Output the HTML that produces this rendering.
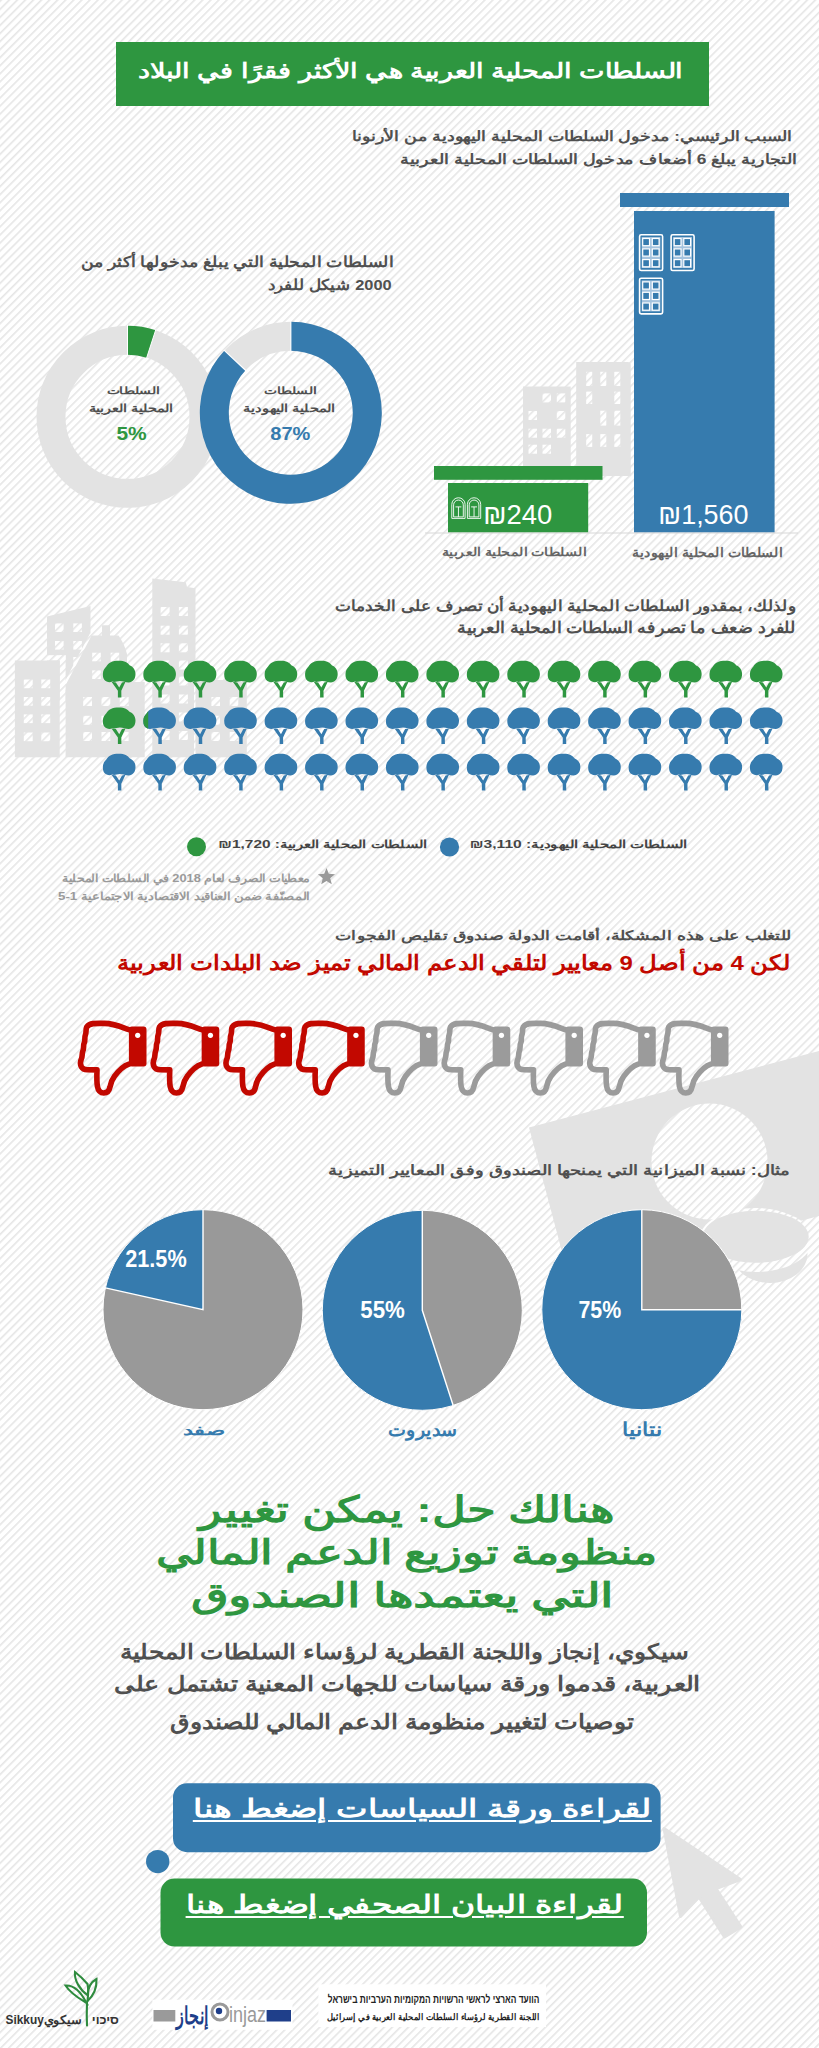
<!DOCTYPE html>
<html lang="ar"><head><meta charset="utf-8"><title>infographic</title>
<style>
html,body{margin:0;padding:0;background:#fff;}
#pg{position:relative;width:819px;height:2048px;overflow:hidden;font-family:"Liberation Sans",sans-serif;}
.g{position:absolute;left:0;top:0;display:block;}
.t{position:absolute;white-space:nowrap;line-height:1;direction:rtl;transform-origin:100% 0;}
</style></head><body><div id="pg">
<svg class="g" width="819" height="2048" viewBox="0 0 819 2048"><defs><pattern id="st" patternUnits="userSpaceOnUse" width="5.7" height="5.7" patternTransform="rotate(45)"><rect width="5.7" height="5.7" fill="#ffffff"/><rect x="0" y="0" width="1.6" height="5.7" fill="#e6e6e6"/></pattern><symbol id="tree" viewBox="0 0 33 37" overflow="visible"><path d="M4,20.8 C1,19.8 0,16.5 0.2,12.8 C0.4,9.5 1.8,7.6 3.6,5.8 C5.8,2 9.5,0 16.2,0 C22,0 25,2 27.2,4.6 C30.6,6 32.8,9 32.8,13.2 C32.8,18.3 30,21.6 26,21.6 C22.5,21.6 20.5,20.2 17.2,20.2 C14,20.2 12.2,21.8 9.6,20.8 C8,21.8 5.6,21.8 4,20.8 Z"/><path d="M8.8,21 L13.2,21.6 L16.5,26.8 L19.3,21.6 L22.8,21 L18.6,30 L18.7,36.6 L15.2,36.6 L15.2,30 Z"/></symbol><symbol id="thumb" viewBox="0 0 70 76" overflow="visible"><path d="M51.7,9.3 C46,7.5 38,3.2 27,3 C18,2.8 12.5,2.6 9.6,6.5 C8.3,9 9.4,12 8.1,14.8 C7,17.5 8.4,19.8 7,22.5 C5.8,25 7,27.8 5.7,30.5 C4.6,33 5.4,35.8 4.2,38.5 C3,41 3,44 4.2,46.5 C5.5,48.8 7.5,49.3 10,49.3 L19.8,49.5 C19.6,55 19.4,61 20.2,66 C21,70.5 23.5,72.6 26.6,72.6 C29.8,72.6 32,70.5 32.8,66.5 C33.5,62.5 34.5,59.5 37,56.3 C40.5,51.5 45,46 51.7,43.8" fill="none" stroke="currentColor" stroke-width="5.6" stroke-linejoin="round" stroke-linecap="round"/><rect x="51.7" y="6.1" width="17.6" height="40.1" rx="3" fill="currentColor"/><circle cx="60.5" cy="14.9" r="2.6" fill="#fff"/></symbol><clipPath id="cl1"><rect x="0" y="0" width="148.2" height="2048"/></clipPath></defs><rect width="819" height="2048" fill="url(#st)"/><rect x="116" y="42" width="593" height="64" fill="#2e9640"/><rect x="523" y="386.5" width="47.7" height="85" fill="#e3e3e3"/><rect x="542.5" y="393.4" width="8.5" height="9" fill="url(#st)"/><rect x="556.8" y="393.4" width="8.5" height="9" fill="url(#st)"/><rect x="528.5" y="411" width="8.5" height="9" fill="url(#st)"/><rect x="556.8" y="411" width="8.5" height="9" fill="url(#st)"/><rect x="528.5" y="428.7" width="8.5" height="9" fill="url(#st)"/><rect x="542.5" y="428.7" width="8.5" height="9" fill="url(#st)"/><rect x="556.8" y="428.7" width="8.5" height="9" fill="url(#st)"/><rect x="528.5" y="444.7" width="8.5" height="9" fill="url(#st)"/><rect x="542.5" y="444.7" width="8.5" height="9" fill="url(#st)"/><path d="M576.2,361.9 H627.7 Q630.7,361.9 630.7,364.9 V475.9 H576.2 Z" fill="#e3e3e3"/><rect x="586.2" y="371.8" width="6" height="14.2" fill="url(#st)"/><rect x="600.3" y="371.8" width="6" height="14.2" fill="url(#st)"/><rect x="614.3" y="371.8" width="6" height="14.2" fill="url(#st)"/><rect x="586.2" y="391.6" width="6" height="12.4" fill="url(#st)"/><rect x="614.3" y="391.6" width="6" height="12.4" fill="url(#st)"/><rect x="600.3" y="410.7" width="6" height="14.9" fill="url(#st)"/><rect x="614.3" y="410.7" width="6" height="14.9" fill="url(#st)"/><rect x="586.2" y="434.1" width="6" height="12.8" fill="url(#st)"/><rect x="600.3" y="434.1" width="6" height="12.8" fill="url(#st)"/><rect x="614.3" y="434.1" width="6" height="12.8" fill="url(#st)"/><rect x="620" y="193" width="169" height="14" fill="#367bae"/><rect x="634" y="211" width="140.6" height="321.5" fill="#367bae"/><g transform="translate(638.8,234)"><rect x="0.8" y="0.8" width="23" height="35.7" rx="1.6" fill="none" stroke="#fff" stroke-width="1.6"/><rect x="2.9" y="3" width="18.7" height="31" fill="#a4c3de"/><rect x="3.9" y="4.5" width="6.8" height="7.2" fill="#367bae" stroke="#fff" stroke-width="1.2"/><rect x="3.9" y="14.9" width="6.8" height="7.2" fill="#367bae" stroke="#fff" stroke-width="1.2"/><rect x="3.9" y="25.6" width="6.8" height="7.2" fill="#367bae" stroke="#fff" stroke-width="1.2"/><rect x="13.5" y="4.5" width="6.8" height="7.2" fill="#367bae" stroke="#fff" stroke-width="1.2"/><rect x="13.5" y="14.9" width="6.8" height="7.2" fill="#367bae" stroke="#fff" stroke-width="1.2"/><rect x="13.5" y="25.6" width="6.8" height="7.2" fill="#367bae" stroke="#fff" stroke-width="1.2"/></g><g transform="translate(670.3,234)"><rect x="0.8" y="0.8" width="23" height="35.7" rx="1.6" fill="none" stroke="#fff" stroke-width="1.6"/><rect x="2.9" y="3" width="18.7" height="31" fill="#a4c3de"/><rect x="3.9" y="4.5" width="6.8" height="7.2" fill="#367bae" stroke="#fff" stroke-width="1.2"/><rect x="3.9" y="14.9" width="6.8" height="7.2" fill="#367bae" stroke="#fff" stroke-width="1.2"/><rect x="3.9" y="25.6" width="6.8" height="7.2" fill="#367bae" stroke="#fff" stroke-width="1.2"/><rect x="13.5" y="4.5" width="6.8" height="7.2" fill="#367bae" stroke="#fff" stroke-width="1.2"/><rect x="13.5" y="14.9" width="6.8" height="7.2" fill="#367bae" stroke="#fff" stroke-width="1.2"/><rect x="13.5" y="25.6" width="6.8" height="7.2" fill="#367bae" stroke="#fff" stroke-width="1.2"/></g><g transform="translate(638.8,277.4)"><rect x="0.8" y="0.8" width="23" height="35.7" rx="1.6" fill="none" stroke="#fff" stroke-width="1.6"/><rect x="2.9" y="3" width="18.7" height="31" fill="#a4c3de"/><rect x="3.9" y="4.5" width="6.8" height="7.2" fill="#367bae" stroke="#fff" stroke-width="1.2"/><rect x="3.9" y="14.9" width="6.8" height="7.2" fill="#367bae" stroke="#fff" stroke-width="1.2"/><rect x="3.9" y="25.6" width="6.8" height="7.2" fill="#367bae" stroke="#fff" stroke-width="1.2"/><rect x="13.5" y="4.5" width="6.8" height="7.2" fill="#367bae" stroke="#fff" stroke-width="1.2"/><rect x="13.5" y="14.9" width="6.8" height="7.2" fill="#367bae" stroke="#fff" stroke-width="1.2"/><rect x="13.5" y="25.6" width="6.8" height="7.2" fill="#367bae" stroke="#fff" stroke-width="1.2"/></g><rect x="434" y="466" width="168.5" height="13.8" fill="#2e9640"/><rect x="448" y="483" width="140.2" height="49.5" fill="#2e9640"/><g transform="translate(451.3,497.4)" fill="none" stroke="#fff" stroke-width="0.9"><path d="M0.5,21 V7 A6.65,6.65 0 0 1 13.8,7 V21 Z"/><path d="M2.3,19.5 V7.5 A4.85,4.85 0 0 1 12,7.5 V19.5 Z"/><path d="M4.2,9.5 H10.1 M7.15,9.5 V19.5"/></g><g transform="translate(466.9,497.4)" fill="none" stroke="#fff" stroke-width="0.9"><path d="M0.5,21 V7 A6.65,6.65 0 0 1 13.8,7 V21 Z"/><path d="M2.3,19.5 V7.5 A4.85,4.85 0 0 1 12,7.5 V19.5 Z"/><path d="M4.2,9.5 H10.1 M7.15,9.5 V19.5"/></g><rect x="425" y="532.5" width="373" height="1" fill="#d8d8d8"/><circle cx="127.5" cy="416.8" r="76.5" fill="none" stroke="#e3e3e3" stroke-width="29"/><path d="M127.50,325.80 A91,91 0 0 1 155.62,330.25 L146.66,357.83 A62,62 0 0 0 127.50,354.80 Z" fill="#2e9640"/><path d="M127.50,355.80 L127.50,324.80" stroke="#fff" stroke-width="1"/><path d="M146.35,358.79 L155.93,329.30" stroke="#fff" stroke-width="1"/><circle cx="290.8" cy="412.8" r="76.5" fill="none" stroke="#e3e3e3" stroke-width="29"/><path d="M290.80,321.80 A91,91 0 1 1 224.46,350.51 L245.60,370.36 A62,62 0 1 0 290.80,350.80 Z" fill="#367bae"/><path d="M290.80,351.80 L290.80,320.80" stroke="#fff" stroke-width="1.2"/><path d="M246.33,371.04 L223.73,349.82" stroke="#fff" stroke-width="1.2"/><path d="M47,616.4 L90.5,606.1 V700 H47 Z" fill="#e3e3e3"/><rect x="55" y="623.4" width="8.6" height="8.6" fill="url(#st)"/><rect x="73.3" y="623.4" width="8.6" height="8.6" fill="url(#st)"/><rect x="55" y="641" width="8.6" height="8.6" fill="url(#st)"/><rect x="73.3" y="641" width="8.6" height="8.6" fill="url(#st)"/><rect x="73.3" y="657" width="8.6" height="8.6" fill="url(#st)"/><rect x="59.7" y="655.2" width="5.9" height="102.1" fill="url(#st)"/><rect x="13.5" y="655.2" width="52" height="5.3" fill="url(#st)"/><rect x="14.9" y="660.5" width="44.8" height="96.8" fill="#e3e3e3"/><rect x="23.8" y="679.5" width="8.9" height="8.7" fill="url(#st)"/><rect x="23.8" y="697" width="8.9" height="8.7" fill="url(#st)"/><rect x="23.8" y="714.4" width="8.9" height="8.7" fill="url(#st)"/><rect x="23.8" y="732.5" width="8.9" height="8.7" fill="url(#st)"/><rect x="41.3" y="679.5" width="8.9" height="8.7" fill="url(#st)"/><rect x="41.3" y="697" width="8.9" height="8.7" fill="url(#st)"/><rect x="41.3" y="714.4" width="8.9" height="8.7" fill="url(#st)"/><rect x="41.3" y="732.5" width="8.9" height="8.7" fill="url(#st)"/><path d="M63.5,684 L90,633.5 H100.5 V623.8 H111.5 V633.5 H119.5 L128.5,653.5 V684 Z" fill="url(#st)"/><path d="M67,682.5 L91.6,635.6 H102 V625.3 H110 V635.6 H118.5 Q124,643 127,654 V684 H67 Z" fill="#e3e3e3"/><rect x="92.2" y="652.7" width="8.6" height="8.6" fill="url(#st)"/><rect x="110.6" y="652.7" width="8.6" height="8.6" fill="url(#st)"/><rect x="92.2" y="670.4" width="8.6" height="8.6" fill="url(#st)"/><rect x="110.6" y="670.4" width="8.6" height="8.6" fill="url(#st)"/><path d="M65.6,690 L73,682 H144.7 V757.3 H65.6 Z" fill="#e3e3e3"/><rect x="83.2" y="697" width="8.8" height="9" fill="url(#st)"/><rect x="83.2" y="715.8" width="8.8" height="9" fill="url(#st)"/><rect x="83.2" y="732" width="8.8" height="9" fill="url(#st)"/><rect x="101.5" y="697" width="8.8" height="9" fill="url(#st)"/><rect x="101.5" y="715.8" width="8.8" height="9" fill="url(#st)"/><rect x="101.5" y="732" width="8.8" height="9" fill="url(#st)"/><rect x="119.8" y="697" width="8.8" height="9" fill="url(#st)"/><rect x="119.8" y="715.8" width="8.8" height="9" fill="url(#st)"/><rect x="119.8" y="732" width="8.8" height="9" fill="url(#st)"/><path d="M152.3,578.5 L185.8,582.2 L187,587 L195.5,588.3 V757.3 H152.3 Z" fill="#e3e3e3"/><rect x="160.6" y="607" width="9" height="9" fill="url(#st)"/><rect x="160.6" y="625.7" width="9" height="9" fill="url(#st)"/><rect x="160.6" y="643.3" width="9" height="9" fill="url(#st)"/><rect x="160.6" y="660.5" width="9" height="9" fill="url(#st)"/><rect x="160.6" y="676.5" width="9" height="9" fill="url(#st)"/><rect x="160.6" y="694.5" width="9" height="9" fill="url(#st)"/><rect x="160.6" y="712.5" width="9" height="9" fill="url(#st)"/><rect x="160.6" y="731" width="9" height="9" fill="url(#st)"/><rect x="178.9" y="607" width="9" height="9" fill="url(#st)"/><rect x="178.9" y="625.7" width="9" height="9" fill="url(#st)"/><rect x="178.9" y="643.3" width="9" height="9" fill="url(#st)"/><rect x="178.9" y="660.5" width="9" height="9" fill="url(#st)"/><rect x="178.9" y="676.5" width="9" height="9" fill="url(#st)"/><rect x="178.9" y="694.5" width="9" height="9" fill="url(#st)"/><rect x="178.9" y="712.5" width="9" height="9" fill="url(#st)"/><rect x="178.9" y="731" width="9" height="9" fill="url(#st)"/><rect x="194" y="678.5" width="54.3" height="80" fill="url(#st)"/><rect x="195.5" y="680" width="51.3" height="77.3" fill="#e3e3e3"/><rect x="211.4" y="697" width="8.6" height="9" fill="url(#st)"/><rect x="211.4" y="715.8" width="8.6" height="9" fill="url(#st)"/><rect x="211.4" y="732" width="8.6" height="9" fill="url(#st)"/><rect x="229.7" y="697" width="8.6" height="9" fill="url(#st)"/><rect x="229.7" y="715.8" width="8.6" height="9" fill="url(#st)"/><rect x="229.7" y="732" width="8.6" height="9" fill="url(#st)"/><use href="#tree" x="102.70" y="660.8" width="33" height="37" fill="#2e9640"/><use href="#tree" x="143.14" y="660.8" width="33" height="37" fill="#2e9640"/><use href="#tree" x="183.58" y="660.8" width="33" height="37" fill="#2e9640"/><use href="#tree" x="224.02" y="660.8" width="33" height="37" fill="#2e9640"/><use href="#tree" x="264.46" y="660.8" width="33" height="37" fill="#2e9640"/><use href="#tree" x="304.90" y="660.8" width="33" height="37" fill="#2e9640"/><use href="#tree" x="345.34" y="660.8" width="33" height="37" fill="#2e9640"/><use href="#tree" x="385.78" y="660.8" width="33" height="37" fill="#2e9640"/><use href="#tree" x="426.22" y="660.8" width="33" height="37" fill="#2e9640"/><use href="#tree" x="466.66" y="660.8" width="33" height="37" fill="#2e9640"/><use href="#tree" x="507.10" y="660.8" width="33" height="37" fill="#2e9640"/><use href="#tree" x="547.54" y="660.8" width="33" height="37" fill="#2e9640"/><use href="#tree" x="587.98" y="660.8" width="33" height="37" fill="#2e9640"/><use href="#tree" x="628.42" y="660.8" width="33" height="37" fill="#2e9640"/><use href="#tree" x="668.86" y="660.8" width="33" height="37" fill="#2e9640"/><use href="#tree" x="709.30" y="660.8" width="33" height="37" fill="#2e9640"/><use href="#tree" x="749.74" y="660.8" width="33" height="37" fill="#2e9640"/><use href="#tree" x="102.70" y="707.4" width="33" height="37" fill="#2e9640"/><use href="#tree" x="143.14" y="707.4" width="33" height="37" fill="#367bae"/><g clip-path="url(#cl1)"><use href="#tree" x="143.14" y="707.4" width="33" height="37" fill="#2e9640"/></g><use href="#tree" x="183.58" y="707.4" width="33" height="37" fill="#367bae"/><use href="#tree" x="224.02" y="707.4" width="33" height="37" fill="#367bae"/><use href="#tree" x="264.46" y="707.4" width="33" height="37" fill="#367bae"/><use href="#tree" x="304.90" y="707.4" width="33" height="37" fill="#367bae"/><use href="#tree" x="345.34" y="707.4" width="33" height="37" fill="#367bae"/><use href="#tree" x="385.78" y="707.4" width="33" height="37" fill="#367bae"/><use href="#tree" x="426.22" y="707.4" width="33" height="37" fill="#367bae"/><use href="#tree" x="466.66" y="707.4" width="33" height="37" fill="#367bae"/><use href="#tree" x="507.10" y="707.4" width="33" height="37" fill="#367bae"/><use href="#tree" x="547.54" y="707.4" width="33" height="37" fill="#367bae"/><use href="#tree" x="587.98" y="707.4" width="33" height="37" fill="#367bae"/><use href="#tree" x="628.42" y="707.4" width="33" height="37" fill="#367bae"/><use href="#tree" x="668.86" y="707.4" width="33" height="37" fill="#367bae"/><use href="#tree" x="709.30" y="707.4" width="33" height="37" fill="#367bae"/><use href="#tree" x="749.74" y="707.4" width="33" height="37" fill="#367bae"/><use href="#tree" x="102.70" y="753.8" width="33" height="37" fill="#367bae"/><use href="#tree" x="143.14" y="753.8" width="33" height="37" fill="#367bae"/><use href="#tree" x="183.58" y="753.8" width="33" height="37" fill="#367bae"/><use href="#tree" x="224.02" y="753.8" width="33" height="37" fill="#367bae"/><use href="#tree" x="264.46" y="753.8" width="33" height="37" fill="#367bae"/><use href="#tree" x="304.90" y="753.8" width="33" height="37" fill="#367bae"/><use href="#tree" x="345.34" y="753.8" width="33" height="37" fill="#367bae"/><use href="#tree" x="385.78" y="753.8" width="33" height="37" fill="#367bae"/><use href="#tree" x="426.22" y="753.8" width="33" height="37" fill="#367bae"/><use href="#tree" x="466.66" y="753.8" width="33" height="37" fill="#367bae"/><use href="#tree" x="507.10" y="753.8" width="33" height="37" fill="#367bae"/><use href="#tree" x="547.54" y="753.8" width="33" height="37" fill="#367bae"/><use href="#tree" x="587.98" y="753.8" width="33" height="37" fill="#367bae"/><use href="#tree" x="628.42" y="753.8" width="33" height="37" fill="#367bae"/><use href="#tree" x="668.86" y="753.8" width="33" height="37" fill="#367bae"/><use href="#tree" x="709.30" y="753.8" width="33" height="37" fill="#367bae"/><use href="#tree" x="749.74" y="753.8" width="33" height="37" fill="#367bae"/><circle cx="196.5" cy="846.7" r="9.5" fill="#2e9640"/><circle cx="449.5" cy="847" r="9.6" fill="#367bae"/><polygon points="326.50,868.00 328.79,873.84 335.06,874.22 330.21,878.21 331.79,884.28 326.50,880.90 321.21,884.28 322.79,878.21 317.94,874.22 324.21,873.84" fill="#9a9a9a"/><polygon points="529,1127.6 819,1051 819,1216 570,1282" fill="#e3e3e3"/><circle cx="709.5" cy="1161.5" r="58" fill="url(#st)"/><ellipse cx="770" cy="1256" rx="39" ry="28" fill="url(#st)"/><ellipse cx="770" cy="1254" rx="37.5" ry="29" fill="#e3e3e3"/><ellipse cx="755.7" cy="1240" rx="56.5" ry="32" fill="url(#st)"/><ellipse cx="755.7" cy="1236.7" rx="53" ry="26" fill="#e3e3e3"/><use href="#thumb" x="77.20" y="1020.4" width="70" height="76" style="color:#c20800"/><use href="#thumb" x="149.95" y="1020.4" width="70" height="76" style="color:#c20800"/><use href="#thumb" x="222.70" y="1020.4" width="70" height="76" style="color:#c20800"/><use href="#thumb" x="295.45" y="1020.4" width="70" height="76" style="color:#c20800"/><use href="#thumb" x="368.20" y="1020.4" width="70" height="76" style="color:#9b9b9b"/><use href="#thumb" x="440.95" y="1020.4" width="70" height="76" style="color:#9b9b9b"/><use href="#thumb" x="513.70" y="1020.4" width="70" height="76" style="color:#9b9b9b"/><use href="#thumb" x="586.45" y="1020.4" width="70" height="76" style="color:#9b9b9b"/><use href="#thumb" x="659.20" y="1020.4" width="70" height="76" style="color:#9b9b9b"/><circle cx="203" cy="1309.7" r="100" fill="#999999"/><path d="M203,1309.7 L105.41,1287.89 A100,100 0 0 1 203.00,1209.70 Z" fill="#367bae"/><path d="M203,1209.7 L203,1309.7 L105.41,1287.89" fill="none" stroke="#fff" stroke-width="1.4"/><circle cx="203" cy="1309.7" r="100" fill="none" stroke="#fff" stroke-width="1"/><circle cx="422.3" cy="1310.3" r="100" fill="#999999"/><path d="M422.3,1310.3 L453.20,1405.41 A100,100 0 1 1 422.30,1210.30 Z" fill="#367bae"/><path d="M422.3,1210.3 L422.3,1310.3 L453.20,1405.41" fill="none" stroke="#fff" stroke-width="1.4"/><circle cx="422.3" cy="1310.3" r="100" fill="none" stroke="#fff" stroke-width="1"/><circle cx="641.8" cy="1309.7" r="100" fill="#999999"/><path d="M641.8,1309.7 L741.80,1309.70 A100,100 0 1 1 641.80,1209.70 Z" fill="#367bae"/><path d="M641.8,1209.7 L641.8,1309.7 L741.80,1309.70" fill="none" stroke="#fff" stroke-width="1.4"/><circle cx="641.8" cy="1309.7" r="100" fill="none" stroke="#fff" stroke-width="1"/><rect x="173" y="1783.3" width="487.6" height="68.9" rx="14" fill="#367bae"/><rect x="160.5" y="1878.6" width="486.5" height="67.9" rx="14" fill="#2e9640"/><circle cx="157.7" cy="1861.6" r="11.7" fill="#367bae"/><path d="M664,1828.5 L680.5,1916.5 L699,1897 L724.5,1937 L741,1927 L716,1888.5 L740.5,1879.5 Z" fill="#e3e3e3" stroke="#e3e3e3" stroke-width="3" stroke-linejoin="round"/><g fill="none" stroke="#2e8b3e" stroke-width="2.1" stroke-linecap="round"><path d="M87,2025.5 C86.5,2015 86.8,2008 87,2002.5"/><path d="M86.5,2003 C80,1999 71,1994 65.5,1985.5 C72,1985 80,1990 86.5,2003 Z"/><path d="M87.5,2001 C88,1996 89,1990 87.5,1984 C84,1980 79,1975 75,1972 C74,1980 80,1990 87.5,1995"/><path d="M87.5,2001 C93,1996 97,1990 96.5,1979 C91,1982 88,1988 87.5,1995"/></g><rect x="152.4" y="1999.7" width="140.1" height="30.1" fill="#fff"/><rect x="153.5" y="2010" width="21.8" height="11.5" fill="#9a9a9a"/><rect x="266.6" y="2010" width="24.4" height="11.5" fill="#1f3f8a"/><circle cx="220" cy="2012" r="8" fill="none" stroke="#9a9a9a" stroke-width="3"/><circle cx="219" cy="2011" r="3.2" fill="#1f3f8a"/><rect x="318.4" y="1984.3" width="227.6" height="42.7" fill="#fff"/></svg>
<div class="t" id="h1" style="right:135.93px;top:60.44px;font-size:21.18px;color:#fff;font-weight:bold;transform:scaleX(1.0710);">السلطات المحلية العربية هي الأكثر فقرًا في البلاد</div><div class="t" id="p1" style="right:27.35px;top:130.36px;font-size:13.55px;color:#505050;font-weight:bold;transform:scaleX(1.0501);">السبب الرئيسي: مدخول السلطات المحلية اليهودية من الأرنونا</div><div class="t" id="p2" style="right:22.75px;top:152.84px;font-size:13.82px;color:#505050;font-weight:bold;transform:scaleX(1.0744);">التجارية يبلغ 6 أضعاف مدخول السلطات المحلية العربية</div><div class="t" id="d1" style="right:425.61px;top:254.76px;font-size:14.61px;color:#505050;font-weight:bold;transform:scaleX(0.9841);">السلطات المحلية التي يبلغ مدخولها أكثر من</div><div class="t" id="d2" style="right:427.00px;top:278.36px;font-size:14.61px;color:#505050;font-weight:bold;transform:scaleX(1.0082);">2000 شيكل للفرد</div><div class="t" id="dl1" style="right:659.12px;top:385.76px;font-size:10.39px;color:#505050;font-weight:bold;transform:scaleX(1.1795);">السلطات</div><div class="t" id="dl2" style="right:645.48px;top:402.73px;font-size:11.32px;color:#505050;font-weight:bold;transform:scaleX(1.0987);">المحلية العربية</div><div class="t" id="dl3" style="right:672.28px;top:424.03px;font-size:19.14px;color:#2e9640;font-weight:bold;transform:scaleX(1.0808);">5%</div><div class="t" id="dr1" style="right:501.56px;top:385.76px;font-size:10.39px;color:#505050;font-weight:bold;transform:scaleX(1.1727);">السلطات</div><div class="t" id="dr2" style="right:483.73px;top:403.21px;font-size:10.92px;color:#505050;font-weight:bold;transform:scaleX(1.0939);">المحلية اليهودية</div><div class="t" id="dr3" style="right:508.98px;top:424.03px;font-size:19.14px;color:#367bae;font-weight:bold;transform:scaleX(1.0243);">87%</div><div class="t" id="b1" style="right:266.98px;top:501.71px;font-size:26.71px;color:#fff;font-weight:normal;transform:scaleX(1.0154);">₪240</div><div class="t" id="b2" style="right:70.20px;top:501.91px;font-size:26.71px;color:#fff;font-weight:normal;transform:scaleX(0.9909);">₪1,560</div><div class="t" id="bl1" style="right:232.39px;top:547.40px;font-size:11.58px;color:#666;font-weight:bold;transform:scaleX(1.0028);">السلطات المحلية العربية</div><div class="t" id="bl2" style="right:35.58px;top:546.64px;font-size:12.76px;color:#666;font-weight:bold;transform:scaleX(0.9298);">السلطات المحلية اليهودية</div><div class="t" id="t1" style="right:22.81px;top:597.75px;font-size:15.26px;color:#505050;font-weight:bold;transform:scaleX(0.9745);">ولذلك، بمقدور السلطات المحلية اليهودية أن تصرف على الخدمات</div><div class="t" id="t2" style="right:23.44px;top:619.70px;font-size:15.79px;color:#505050;font-weight:bold;transform:scaleX(0.9382);">للفرد ضعف ما تصرفه السلطات المحلية العربية</div><div class="t" id="l1" style="right:391.79px;top:838.76px;font-size:11.45px;color:#444;font-weight:bold;transform:scaleX(1.2064);">السلطات المحلية العربية: <span dir="ltr">₪1,720</span></div><div class="t" id="l2" style="right:131.90px;top:838.76px;font-size:11.45px;color:#444;font-weight:bold;transform:scaleX(1.2096);">السلطات المحلية اليهودية: <span dir="ltr">₪3,110</span></div><div class="t" id="n1" style="right:509.01px;top:873.12px;font-size:11.32px;color:#9a9a9a;font-weight:bold;transform:scaleX(0.9884);">معطيات الصرف لعام 2018 في السلطات المحلية</div><div class="t" id="n2" style="right:509.00px;top:891.29px;font-size:11.18px;color:#9a9a9a;font-weight:bold;transform:scaleX(0.9990);">المصنّفة ضمن العناقيد الاقتصادية الاجتماعية 1-5</div><div class="t" id="g1" style="right:27.86px;top:930.24px;font-size:12.76px;color:#505050;font-weight:bold;transform:scaleX(1.1399);">للتغلب على هذه المشكلة، أقامت الدولة صندوق تقليص الفجوات</div><div class="t" id="r1" style="right:29.02px;top:953.49px;font-size:20.66px;color:#c20800;font-weight:bold;transform:scaleX(0.9892);">لكن 4 من أصل 9 معايير لتلقي الدعم المالي تميز ضد البلدات العربية</div><div class="t" id="e1" style="right:28.54px;top:1164.44px;font-size:13.82px;color:#505050;font-weight:bold;transform:scaleX(1.0748);">مثال: نسبة الميزانية التي يمنحها الصندوق وفق المعايير التميزية</div><div class="t" id="pl1" style="right:631.96px;top:1246.55px;font-size:23.86px;color:#fff;font-weight:bold;transform:scaleX(0.9167);">21.5%</div><div class="t" id="pl2" style="right:413.80px;top:1298.46px;font-size:24.43px;color:#fff;font-weight:bold;transform:scaleX(0.9478);">55%</div><div class="t" id="pl3" style="right:198.18px;top:1298.29px;font-size:24.57px;color:#fff;font-weight:bold;transform:scaleX(0.8551);">75%</div><div class="t" id="c1" style="right:594.37px;top:1422.62px;font-size:14.47px;color:#367bae;font-weight:bold;transform:scaleX(1.3138);">صفد</div><div class="t" id="c2" style="right:361.74px;top:1422.10px;font-size:17.89px;color:#367bae;font-weight:bold;transform:scaleX(0.9153);">سديروت</div><div class="t" id="c3" style="right:157.09px;top:1419.61px;font-size:19.34px;color:#367bae;font-weight:bold;transform:scaleX(0.9095);">نتانيا</div><div class="t" id="s1" style="right:204.59px;top:1492.80px;font-size:35.79px;color:#2e9640;font-weight:bold;transform:scaleX(1.0958);">هنالك حل: يمكن تغيير</div><div class="t" id="s2" style="right:161.13px;top:1535.15px;font-size:34.21px;color:#2e9640;font-weight:bold;transform:scaleX(1.1119);">منظومة توزيع الدعم المالي</div><div class="t" id="s3" style="right:205.62px;top:1578.11px;font-size:34.08px;color:#2e9640;font-weight:bold;transform:scaleX(1.1694);">التي يعتمدها الصندوق</div><div class="t" id="q1" style="right:129.00px;top:1641.53px;font-size:20.79px;color:#505050;font-weight:bold;transform:scaleX(1.0009);">سيكوي، إنجاز واللجنة القطرية لرؤساء السلطات المحلية</div><div class="t" id="q2" style="right:119.18px;top:1674.49px;font-size:20.66px;color:#505050;font-weight:bold;transform:scaleX(1.0093);">العربية، قدموا ورقة سياسات للجهات المعنية تشتمل على</div><div class="t" id="q3" style="right:185.00px;top:1711.65px;font-size:20.53px;color:#505050;font-weight:bold;transform:scaleX(1.0002);">توصيات لتغيير منظومة الدعم المالي للصندوق</div><div class="t" id="k1" style="right:167.71px;top:1795.62px;font-size:25.00px;color:#fff;font-weight:bold;transform:scaleX(1.1475);text-decoration:underline;text-decoration-thickness:1.6px;text-underline-offset:3px;">لقراءة ورقة السياسات إضغط هنا</div><div class="t" id="k2" style="right:195.10px;top:1891.62px;font-size:25.00px;color:#fff;font-weight:bold;transform:scaleX(1.1236);text-decoration:underline;text-decoration-thickness:1.6px;text-underline-offset:3px;">لقراءة البيان الصحفي إضغط هنا</div><div class="t" id="o1" style="right:775.72px;top:2013.15px;font-size:13.57px;color:#333;font-weight:bold;transform:scaleX(0.8318);">Sikkuy</div><div class="t" id="o2" style="right:737.11px;top:2014.88px;font-size:11.84px;color:#333;font-weight:bold;transform:scaleX(0.8927);">سيكوي</div><div class="t" id="o3" style="right:700.00px;top:2013.87px;font-size:12.14px;color:#333;font-weight:bold;transform:scaleX(1.0038);">סיכוי</div><div class="t" id="o4" style="right:609.64px;top:2004.75px;font-size:23.68px;color:#1f3f8a;font-weight:bold;transform:scaleX(0.5750);">إنجاز</div><div class="t" id="o5" style="right:553.11px;top:2003.46px;font-size:22.86px;color:#9a9a9a;font-weight:normal;transform:scaleX(0.7717);">injaz</div><div class="t" id="o6" style="right:279.53px;top:1993.73px;font-size:11.43px;color:#222;font-weight:bold;transform:scaleX(0.7755);">הוועד הארצי לראשי הרשויות המקומיות הערביות בישראל</div><div class="t" id="o7" style="right:278.73px;top:2013.12px;font-size:9.21px;color:#222;font-weight:bold;transform:scaleX(0.8080);">اللجنة القطرية لرؤساء السلطات المحلية العربية في إسرائيل</div>
</div>
<script>
(function(){var L=[["h1",545.14],["p1",440.00],["p2",396.45],["d1",311.97],["d2",124.01],["dl1",53.08],["dl2",84.60],["dl3",30.26],["dr1",52.77],["dr2",91.89],["dr3",39.95],["b1",69.05],["b2",90.17],["bl1",144.41],["bl2",150.63],["t1",460.95],["t2",338.68],["l1",208.71],["l2",217.72],["n1",248.08],["n2",251.75],["g1",455.98],["r1",672.67],["e1",462.15],["pl1",61.42],["pl2",44.55],["pl3",42.76],["c1",42.04],["c2",68.65],["c3",40.02],["s1",415.30],["s2",501.45],["s3",422.15],["q1",569.50],["q2",586.42],["q3",464.10],["k1",458.99],["k2",438.19],["o1",38.26],["o2",38.39],["o3",27.10],["o4",32.77],["o5",37.04],["o6",211.70],["o7",213.32]];for(var i=0;i<L.length;i++){var e=document.getElementById(L[i][0]);if(!e)continue;var t=e.style.transform;e.style.transform='none';var w=e.getBoundingClientRect().width;if(w>0){e.style.transform='scaleX('+(L[i][1]/w).toFixed(4)+')';}else{e.style.transform=t;}}})();
</script>
</body></html>
